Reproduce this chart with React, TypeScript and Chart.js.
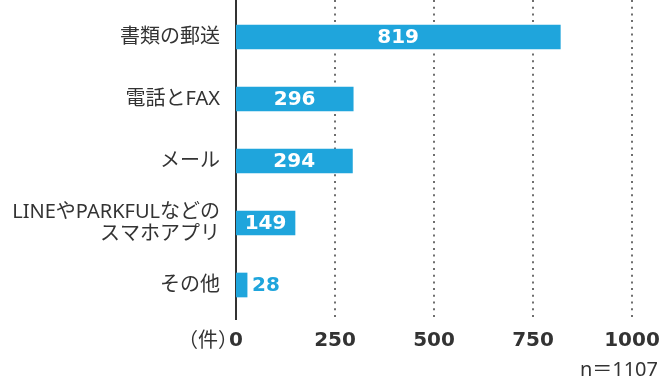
import React, { useEffect, useRef } from "react";
import { Chart, registerables } from "chart.js";

Chart.register(...registerables);

const categories: (string | string[])[] = [
  "書類の郵送",
  "電話とFAX",
  "メール",
  ["LINEやPARKFULなどの", "スマホアプリ"],
  "その他",
];
const values = [819, 296, 294, 149, 28];
const xMin = 0;
const xMax = 1000;
const xStep = 250;
const unitLabel = "（件）";
const sampleNote = "n＝1107";

const BAR = "#1fa5dc";
const TEXT = "#333333";
const GRID = "#6e6e6e";
const JP = '"Noto Sans", "Noto Sans CJK JP", sans-serif';
const NUM = '"DejaVu Sans", sans-serif';

const overlay = {
  id: "overlay",
  beforeDatasetsDraw(chart: any) {
    const { ctx } = chart;
    const xs = chart.scales.x;
    const top = 0;
    const bottom = chart.chartArea.bottom + 4;
    ctx.save();
    ctx.strokeStyle = GRID;
    ctx.lineWidth = 2;
    ctx.setLineDash([2, 4.7]);
    xs.ticks.forEach((t: any) => {
      if (t.value === 0) return;
      const x = Math.round(xs.getPixelForValue(t.value));
      ctx.beginPath();
      ctx.moveTo(x, top);
      ctx.lineTo(x, bottom);
      ctx.stroke();
    });
    ctx.setLineDash([]);
    const x0 = Math.round(xs.getPixelForValue(0));
    ctx.strokeStyle = TEXT;
    ctx.lineWidth = 2;
    ctx.beginPath();
    ctx.moveTo(x0, top);
    ctx.lineTo(x0, bottom);
    ctx.stroke();
    ctx.restore();
  },
  afterDatasetsDraw(chart: any) {
    const { ctx } = chart;
    const meta = chart.getDatasetMeta(0);
    ctx.save();
    ctx.font = `bold 20px ${NUM}`;
    ctx.textBaseline = "middle";
    meta.data.forEach((bar: any, i: number) => {
      const label = String(values[i]);
      const w = ctx.measureText(label).width;
      const left = bar.base;
      const right = bar.x;
      const barW = right - left;
      if (w + 8 < barW) {
        ctx.fillStyle = "#ffffff";
        ctx.textAlign = "center";
        ctx.fillText(label, (left + right) / 2, bar.y + 1);
      } else {
        ctx.fillStyle = BAR;
        ctx.textAlign = "left";
        ctx.fillText(label, right + 5, bar.y + 1);
      }
    });
    ctx.restore();
  },
  afterDraw(chart: any) {
    const { ctx } = chart;
    const xs = chart.scales.x;
    const x0 = xs.getPixelForValue(0);
    ctx.save();
    ctx.fillStyle = TEXT;
    ctx.font = `20px ${JP}`;
    ctx.textBaseline = "middle";
    ctx.textAlign = "right";
    ctx.fillText(unitLabel, x0 + 2, 341);
    ctx.font = `20px ${JP}`;
    ctx.fillText(sampleNote, 658, 370);
    ctx.restore();
  },
};

export default function App() {
  const ref = useRef<HTMLCanvasElement | null>(null);
  useEffect(() => {
    if (!ref.current) return;
    const chart = new Chart(ref.current, {
      type: "bar",
      data: {
        labels: categories as any,
        datasets: [
          {
            data: values,
            backgroundColor: BAR,
            borderWidth: 0,
            barThickness: 24,
          },
        ],
      },
      options: {
        indexAxis: "y",
        responsive: false,
        animation: false,
        layout: { padding: { top: 6, right: 28, left: 0, bottom: 0 } },
        plugins: {
          legend: { display: false },
          tooltip: { enabled: false },
          title: { display: false },
        },
        scales: {
          x: {
            type: "linear",
            min: xMin,
            max: xMax,
            grid: { display: false, drawTicks: false },
            border: { display: false },
            ticks: {
              stepSize: xStep,
              color: TEXT,
              font: { family: NUM, size: 20, weight: "bold" },
              padding: 13,
              maxRotation: 0,
              callback: (v: any) => String(v),
            },
            afterFit: (s: any) => {
              s.height = 63;
              s.paddingLeft = 0;
              s.paddingRight = 0;
            },
          },
          y: {
            type: "category",
            grid: { display: false, drawTicks: false },
            border: { display: false },
            ticks: {
              color: TEXT,
              font: { family: JP, size: 20, lineHeight: 1.1 },
              padding: 16,
            },
            afterFit: (s: any) => {
              s.width = 236;
              s.paddingTop = 0;
              s.paddingBottom = 0;
            },
          },
        },
      } as any,
      plugins: [overlay],
    });
    return () => chart.destroy();
  }, []);
  return (
    <div style={{ position: "fixed", left: 0, top: 0, width: 660, height: 379, background: "#fff" }}>
      <canvas ref={ref} width={660} height={379} style={{ width: 660, height: 379 }} />
    </div>
  );
}
